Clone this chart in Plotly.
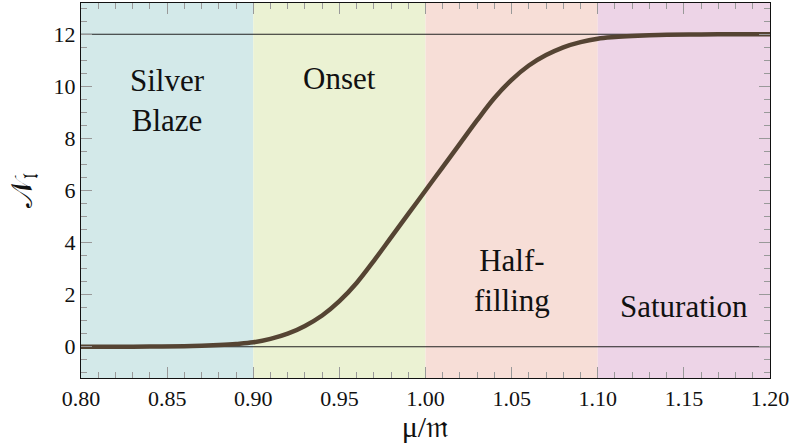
import plotly.graph_objects as go

# Data
mu = [0.80, 0.82, 0.84, 0.86, 0.87, 0.88, 0.89, 0.90, 0.91, 0.92, 0.93, 0.94, 0.95, 0.96, 0.97,
      0.98, 0.99, 1.00, 1.01, 1.02, 1.03, 1.04, 1.05, 1.06, 1.07, 1.08, 1.09, 1.10, 1.11,
      1.12, 1.13, 1.14, 1.16, 1.18, 1.20]
N = [0.0, 0.0, 0.01, 0.02, 0.04, 0.07, 0.11, 0.17, 0.30, 0.50, 0.80, 1.20, 1.75, 2.45, 3.30,
     4.20, 5.10, 6.00, 6.90, 7.80, 8.70, 9.55, 10.25, 10.80, 11.20, 11.50, 11.70, 11.83, 11.89,
     11.93, 11.96, 11.98, 11.99, 12.0, 12.0]

region_names = ["Silver<br>Blaze", "Onset", "Half-<br>filling", "Saturation"]
region_edges = [0.80, 0.90, 1.00, 1.10, 1.20]
region_colors = ["#d3e9e9", "#ebf2d3", "#f7ded7", "#edd4e7"]
label_y = [9.45, 10.3, 2.55, 1.55]
ref_levels = [0, 12]

SERIF = "Liberation Serif"

fig = go.Figure()

shapes = []
for i, c in enumerate(region_colors):
    shapes.append(dict(type="rect", xref="x", yref="y", x0=region_edges[i], x1=region_edges[i + 1],
                       y0=-1.2, y1=13.2, fillcolor=c, line=dict(width=0), layer="below"))
for lv in ref_levels:
    shapes.append(dict(type="line", xref="x", yref="y", x0=region_edges[0], x1=region_edges[-1],
                       y0=lv, y1=lv, line=dict(color="#222222", width=1), layer="below"))

fig.add_trace(go.Scatter(x=mu, y=N, mode="lines", line=dict(color="#554433", width=4.5, shape="spline"),
                         showlegend=False, hoverinfo="skip"))

annotations = []
for i, name in enumerate(region_names):
    annotations.append(dict(x=(region_edges[i] + region_edges[i + 1]) / 2, y=label_y[i], xref="x", yref="y",
                            text=name, showarrow=False,
                            font=dict(family=SERIF, size=31, color="#111111")))

tick_font = dict(family=SERIF, size=22, color="#111111")

fig.update_layout(
    width=791, height=443,
    margin=dict(l=81, r=21, t=3, b=65, autoexpand=False),
    paper_bgcolor="white", plot_bgcolor="white",
    font=dict(family=SERIF),
    shapes=shapes, annotations=annotations,
    xaxis=dict(range=[0.80, 1.20], dtick=0.05, tick0=0.8, tickformat=".2f", showgrid=False, zeroline=False,
               ticks="inside", ticklen=11, tickcolor="#999999", tickwidth=1,
               minor=dict(dtick=0.01, ticks="inside", ticklen=6, tickcolor="#999999", showgrid=False),
               showline=True, linecolor="#111111", linewidth=1.2, mirror="ticks",
               tickfont=tick_font,
               title=dict(text="μ/𝔪", font=dict(family=SERIF, size=30, color="#111111"), standoff=6)),
    yaxis=dict(range=[-1.2, 13.2], dtick=2, tick0=0, showgrid=False, zeroline=False,
               ticks="inside", ticklen=11, tickcolor="#999999", tickwidth=1,
               minor=dict(dtick=0.5, ticks="inside", ticklen=6, tickcolor="#999999", showgrid=False),
               showline=True, linecolor="#111111", linewidth=1.2, mirror="ticks",
               tickfont=tick_font,
               title=dict(text="𝒩<sub>𝔩</sub>", font=dict(family=SERIF, size=30, color="#111111"), standoff=12)),
)

fig.write_html("out.html", config={"displayModeBar": False},
               post_script="document.body.style.margin='0';document.body.style.padding='0';")
